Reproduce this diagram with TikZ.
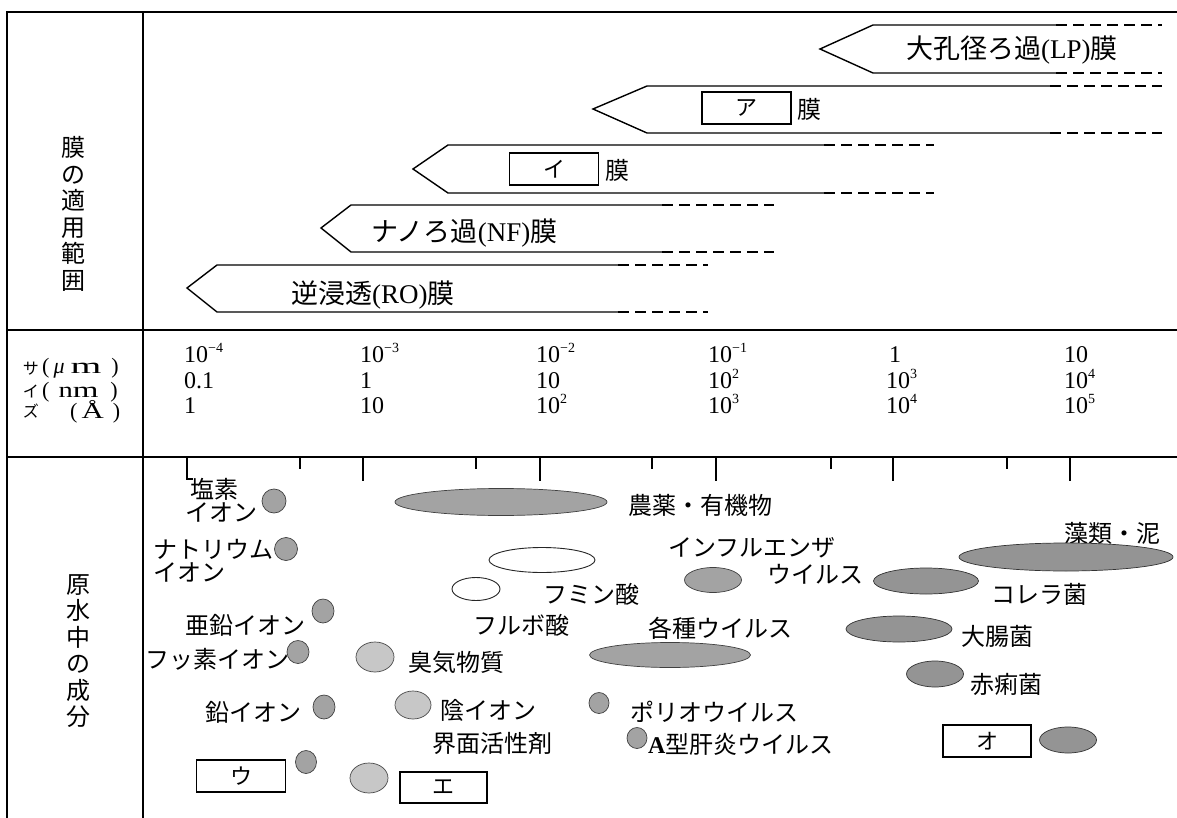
\documentclass[tikz,border=0pt]{standalone}
\usepackage{fontspec}
\setmainfont{Liberation Serif}
\newfontfamily\cjk{Noto Sans CJK JP}
\usetikzlibrary{shapes.geometric}
\definecolor{dotgray}{gray}{0.64}
\definecolor{lightgray2}{gray}{0.78}
\definecolor{bactgray}{gray}{0.58}
\newcommand\tenp[1]{10\raisebox{0.85ex}{\fontsize{14}{14}\selectfont #1}}
\begin{document}
\begin{tikzpicture}[x=1pt,y=-1pt,
  frame/.style={line width=1.8pt},
  outl/.style={line width=1.4pt},
  dsh/.style={line width=1.4pt, dash pattern=on 11pt off 6pt},
  tick/.style={line width=1.6pt},
  lab/.style={anchor=west, inner sep=0pt, font=\cjk\fontsize{24}{24}\selectfont},
  big/.style={anchor=west, inner sep=0pt, font=\cjk\fontsize{27}{27}\selectfont},
  vlab/.style={align=center, inner sep=0pt, font=\cjk\fontsize{24}{26.5}\selectfont},
  val/.style={anchor=base west, inner sep=0pt, font=\rmfamily\fontsize{24}{24}\selectfont},
  unit/.style={anchor=base west, inner sep=0pt, font=\rmfamily\fontsize{22}{22}\selectfont},
  small/.style={inner sep=0pt, font=\cjk\fontsize{16}{16}\selectfont},
  blank/.style={draw, line width=1.4pt, minimum width=89pt, minimum height=32pt, inner sep=0pt, font=\cjk\fontsize{22}{22}\selectfont},
  dot/.style={ellipse, draw=black!75, fill=dotgray, line width=0.7pt, inner sep=0pt},
  ldot/.style={ellipse, draw=black!70, fill=lightgray2, line width=0.7pt, inner sep=0pt},
  bdot/.style={ellipse, draw=black!80, fill=bactgray, line width=0.7pt, inner sep=0pt},
  wdot/.style={ellipse, draw=black!85, fill=white, line width=0.9pt, inner sep=0pt}
]
\useasboundingbox (0,0) rectangle (1177,818);
\fill[white] (0,0) rectangle (1177,818);

% frame
\draw[frame] (1177,12) -- (7,12) -- (7,818);
\draw[frame] (143,12) -- (143,818);
\draw[frame] (7,330) -- (1177,330);
\draw[frame] (7,457) -- (1177,457);

% ticks
\draw[tick] (187,457) -- (187,479) -- (193,479);
\foreach \x in {363,540,716,893,1070} \draw[tick] (\x,457) -- (\x,481);
\foreach \x in {300,476,652,831,1007} \draw[tick] (\x,457) -- (\x,469);

% left labels
\node[vlab] (lblA) at (73,214) {膜\\の\\適\\用\\範\\囲};
\node[vlab] (lblB) at (78,651) {原\\水\\中\\の\\成\\分};

% membrane arrows
\draw[outl] (1056,25) -- (873,25) -- (820,49) -- (873,73) -- (1056,73);
\draw[dsh] (1056,25) -- (1162,25);
\draw[dsh] (1056,73) -- (1162,73);
\node[big] (lp) at (906,50) {大孔径ろ過{\rmfamily (LP)}膜};

\draw[outl] (1050,86) -- (647,86) -- (593,109) -- (647,133) -- (1050,133);
\draw[dsh] (1050,86) -- (1162,86);
\draw[dsh] (1050,133) -- (1162,133);
\node[blank] (boxA) at (746.5,108) {ア};
\node[lab] (makuA) at (797,109) {膜};

\draw[outl] (824,145) -- (448,145) -- (413,169) -- (448,193) -- (824,193);
\draw[dsh] (824,145) -- (934,145);
\draw[dsh] (824,193) -- (934,193);
\node[blank] (boxI) at (554,169) {イ};
\node[lab] (makuI) at (605,170) {膜};

\draw[outl] (662,205) -- (351,205) -- (321,228) -- (351,252) -- (662,252);
\draw[dsh] (662,205) -- (774,205);
\draw[dsh] (662,252) -- (774,252);
\node[big] (nf) at (371,233) {ナノろ過{\rmfamily (NF)}膜};

\draw[outl] (618,265) -- (217,265) -- (187,288) -- (217,312) -- (618,312);
\draw[dsh] (618,265) -- (708,265);
\draw[dsh] (618,312) -- (708,312);
\node[big] (ro) at (291,295) {逆浸透{\rmfamily (RO)}膜};

% size table
\node[small] (sa) at (31,369) {サ};
\node[small] (si) at (31,391) {イ};
\node[small] (zu) at (31,411) {ズ};
\node[unit] (um) at (42,373) {(\hspace{4pt}\textit{μ}\hspace{6pt}\scalebox{1.8}[1]{m}\hspace{10pt})};
\node[unit] (nm) at (42,397) {(\hspace{9pt}\scalebox{1.3}[1]{n}\scalebox{1.5}[1]{m}\hspace{12pt})};
\node[unit] (aa) at (70,418) {(\hspace{4pt}\scalebox{1.4}[1]{Å}\hspace{9pt})};

\node[val] (v11) at (184,362) {\tenp{−4}};
\node[val] (v12) at (184,388) {0.1};
\node[val] (v13) at (184,413) {1};
\node[val] (v21) at (360,362) {\tenp{−3}};
\node[val] (v22) at (360,388) {1};
\node[val] (v23) at (360,413) {10};
\node[val] (v31) at (536,362) {\tenp{−2}};
\node[val] (v32) at (536,388) {10};
\node[val] (v33) at (536,413) {\tenp{2}};
\node[val] (v41) at (708,362) {\tenp{−1}};
\node[val] (v42) at (708,388) {\tenp{2}};
\node[val] (v43) at (708,413) {\tenp{3}};
\node[val] (v51) at (889,362) {1};
\node[val] (v52) at (886,388) {\tenp{3}};
\node[val] (v53) at (886,413) {\tenp{4}};
\node[val] (v61) at (1064,362) {10};
\node[val] (v62) at (1064,388) {\tenp{4}};
\node[val] (v63) at (1064,413) {\tenp{5}};

% components
\node[lab] (t1a) at (190,489) {塩素};
\node[lab] (t1b) at (185,512) {イオン};
\node[dot, minimum width=24pt, minimum height=24pt] (c1) at (274,501) {};

\node[lab] (t2a) at (153,549) {ナトリウム};
\node[lab] (t2b) at (153,572) {イオン};
\node[dot, minimum width=23pt, minimum height=23pt] (c2) at (286,549) {};

\node[dot, minimum width=212pt, minimum height=27pt] (e3) at (501,502) {};
\node[lab] (t3) at (628,505) {農薬・有機物};

\node[wdot, minimum width=106pt, minimum height=25pt] (e4) at (542,560) {};
\node[wdot, minimum width=48pt, minimum height=23pt] (e5) at (476,589) {};
\node[lab] (t4) at (543,594) {フミン酸};
\node[lab] (t5) at (473,625) {フルボ酸};

\node[lab] (t6) at (185,625) {亜鉛イオン};
\node[dot, minimum width=22pt, minimum height=24pt] (c6) at (323,611) {};

\node[lab] (t7) at (145,659) {フッ素イオン};
\node[dot, minimum width=22pt, minimum height=23pt] (c7) at (298,652) {};

\node[ldot, minimum width=38pt, minimum height=30pt] (c8) at (375,657) {};
\node[lab] (t8) at (408,662) {臭気物質};

\node[lab] (t9) at (205,712) {鉛イオン};
\node[dot, minimum width=22pt, minimum height=24pt] (c9) at (324,707) {};

\node[ldot, minimum width=36pt, minimum height=28pt] (c10) at (413,705) {};
\node[lab] (t10a) at (440,710) {陰イオン};
\node[lab] (t10b) at (432,743) {界面活性剤};

\node[blank] (boxU) at (241,776) {ウ};
\node[dot, minimum width=21pt, minimum height=23pt] (c11) at (306,762) {};

\node[ldot, minimum width=38pt, minimum height=30pt] (c12) at (369,778) {};
\node[blank, minimum width=87pt, minimum height=31pt] (boxE) at (443.5,787.5) {エ};

\node[lab] (t13a) at (668,548) {インフルエンザ};
\node[lab] (t13b) at (767,574) {ウイルス};
\node[dot, minimum width=57pt, minimum height=25pt] (e13) at (713,580) {};

\node[bdot, minimum width=105pt, minimum height=26pt] (e14) at (926,581) {};
\node[lab] (t14) at (991,594) {コレラ菌};

\node[lab] (t16) at (1064,533) {藻類・泥};
\node[bdot, minimum width=214pt, minimum height=28pt] (e16) at (1066,557) {};

\node[lab] (t17) at (648,628) {各種ウイルス};
\node[dot, minimum width=161pt, minimum height=25pt] (e17) at (670,655) {};

\node[bdot, minimum width=106pt, minimum height=26pt] (e18) at (899,629) {};
\node[lab] (t18) at (961,636) {大腸菌};

\node[bdot, minimum width=57pt, minimum height=26pt] (e19) at (935,674) {};
\node[lab] (t19) at (970,684) {赤痢菌};

\node[dot, minimum width=20pt, minimum height=21pt] (c20) at (599,703) {};
\node[lab] (t20) at (630,712) {ポリオウイルス};

\node[dot, minimum width=20pt, minimum height=21pt] (c21) at (637,738) {};
\node[lab] (t21) at (648,744) {{\rmfamily\bfseries A}型肝炎ウイルス};

\node[blank, minimum width=88pt] (boxO) at (987,741) {オ};
\node[bdot, minimum width=57pt, minimum height=26pt] (e22) at (1068,740) {};
\end{tikzpicture}
\end{document}
